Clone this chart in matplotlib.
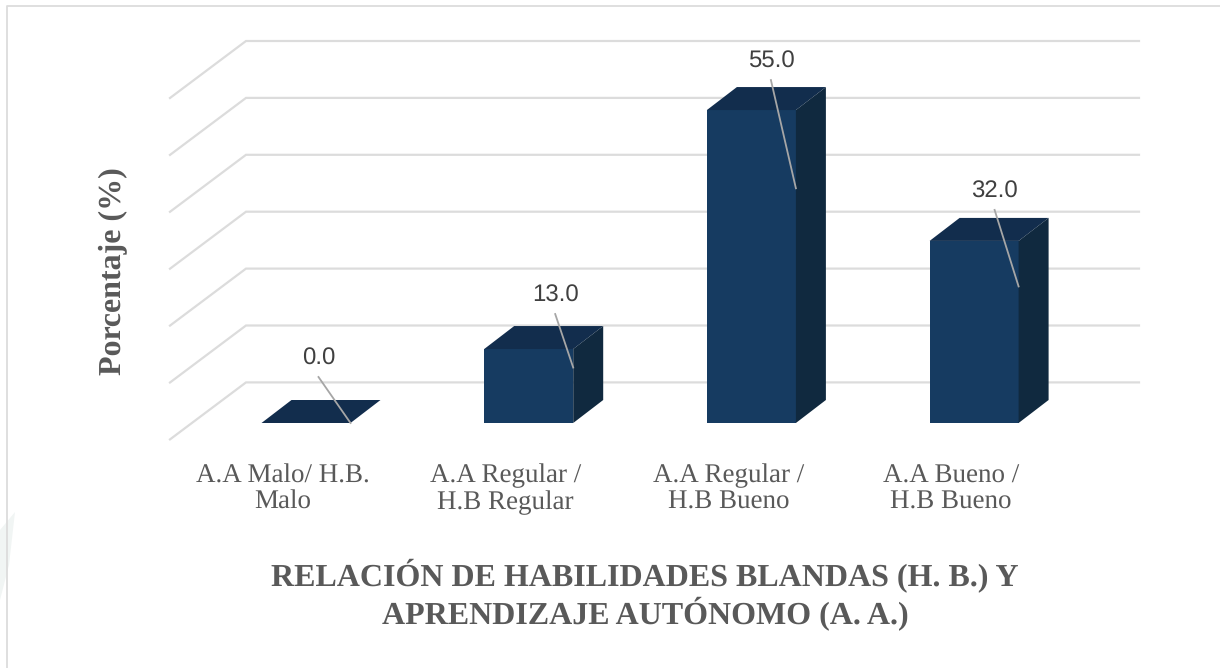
import matplotlib

matplotlib.use("Agg")
import matplotlib.pyplot as plt
from matplotlib.patches import Polygon, Rectangle

plt.rcParams["text.hinting"] = "no_hinting"
plt.rcParams["text.hinting_factor"] = 1

W, H = 1220, 668

categories = ["A.A Malo/ H.B.\nMalo", "A.A Regular /\nH.B Regular",
              "A.A Regular /\nH.B Bueno", "A.A Bueno /\nH.B Bueno"]
values = [0.0, 13.0, 55.0, 32.0]
grid_ticks = [0, 10, 20, 30, 40, 50, 60]

FRONT = "#163b61"
TOP = "#122d4d"
SIDE = "#10293f"
GRID = "#dcdcdc"
TXT = "#595959"

# pixel scales of the fake 3d chart
PX_CAT = 222.7
PX_VAL = 5.69
X0, Y0 = 306, 423  # centre of first bar, front base
BAR_W = 89 / PX_CAT
DX, DY = 30 / PX_CAT, 23 / PX_VAL  # bar depth
LABEL_OFF = [(-32, 64), (-18, 53), (-25, 48), (-24, 49)]  # px from the bar's front top right

fig = plt.figure(figsize=(W / 100, H / 100), dpi=100)
ax = fig.add_axes([0, 0, 1, 1])
ax.set_xlim(-X0 / PX_CAT, (W - X0) / PX_CAT)
ax.set_ylim((Y0 - H) / PX_VAL, Y0 / PX_VAL)
ax.axis("off")

# faint watermark edge at the left of the page
fig.add_artist(Polygon([(15 / W, 1 - 512 / H), (0, 1 - 530 / H), (0, 1 - 600 / H), (9 / W, 1 - 565 / H)],
                       transform=fig.transFigure, color="#f1f5f4", lw=0))

# outer frame, only left and top are visible
fig.add_artist(plt.Line2D([7 / W, 7 / W, 1], [0, 1 - 6 / H, 1 - 6 / H], color="#dcdcdc", lw=1.3))

# back wall and side wall gridlines
back_dy = 40.6 / PX_VAL
front_dy = -16.4 / PX_VAL
x_back = (246 - X0) / PX_CAT
x_front = (170 - X0) / PX_CAT
x_end = (1139 - X0) / PX_CAT
for v in grid_ticks:
    ax.plot([x_front, x_back, x_end], [v + front_dy, v + back_dy, v + back_dy],
            color=GRID, lw=1.6, zorder=1, solid_joinstyle="miter")

# bars
for i, v in enumerate(values):
    l, r = i - BAR_W / 2, i + BAR_W / 2
    ax.add_patch(Rectangle((l, 0), BAR_W, v, color=FRONT, lw=0, zorder=2))
    ax.add_patch(Polygon([(l, v), (l + DX, v + DY), (r + DX, v + DY), (r, v)],
                         color=TOP, lw=0, zorder=3))
    if v > 0:
        ax.add_patch(Polygon([(r, 0), (r + DX, DY), (r + DX, v + DY), (r, v)],
                             color=SIDE, lw=0, zorder=3))
    # data label with leader line
    ox, oy = LABEL_OFF[i]
    lx, ly = r + ox / PX_CAT, v + oy / PX_VAL
    ax.text(lx, ly, f"{v:.1f}", ha="center", va="center", fontsize=17,
            family="Liberation Sans", color="#404040", zorder=5)
    ax.plot([lx, r], [ly - 18 / PX_VAL, v * 0.75], color="#a6a6a6", lw=1.3, zorder=4)

    ax.text(i - 23 / PX_CAT, -66 / PX_VAL, categories[i], ha="center", va="center",
            fontsize=19.5, family="Liberation Serif", color=TXT, linespacing=1.12)

fig.text(113 / W, 1 - 271 / H, "Porcentaje (%)", rotation=90, ha="center", va="center",
         fontsize=23, fontweight="bold", family="Liberation Serif", color=TXT)
fig.text(645 / W, 1 - 595 / H, "RELACIÓN DE HABILIDADES BLANDAS (H. B.) Y\nAPRENDIZAJE AUTÓNOMO (A. A.)",
         ha="center", va="center", fontsize=23, fontweight="bold",
         family="Liberation Serif", color=TXT, linespacing=1.12)

fig.savefig("out.png", dpi=100)
